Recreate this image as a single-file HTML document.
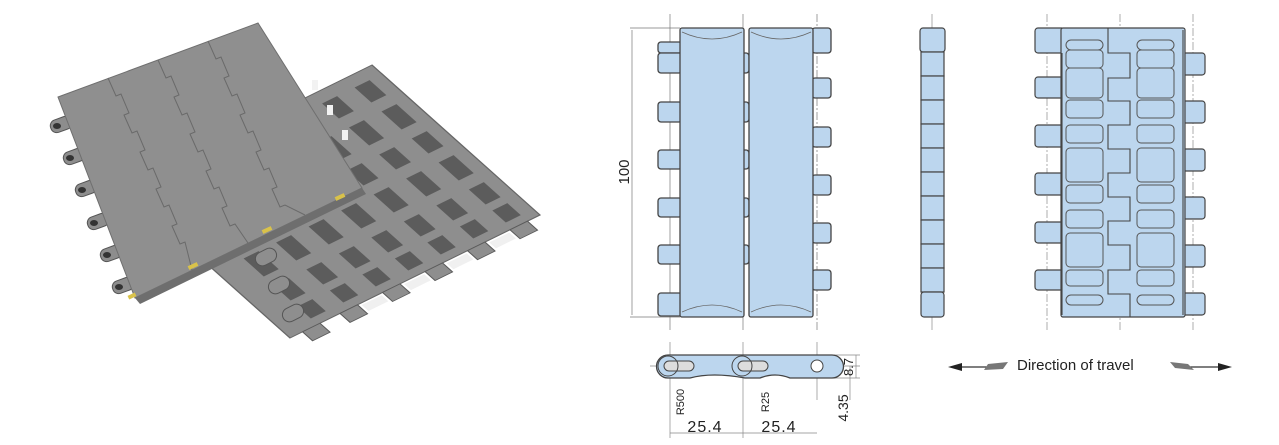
<!DOCTYPE html>
<html><head><meta charset="utf-8"><style>
html,body{margin:0;padding:0;background:#fff;}
svg{display:block}
text{font-family:"Liberation Sans",sans-serif;fill:#222}
</style></head><body>
<svg width="1279" height="445" viewBox="0 0 1279 445" xmlns="http://www.w3.org/2000/svg">

<!-- bottom plate (underside) -->
<g transform="matrix(1.68,1.5,-2.5,1.23,372,65)">
  <polygon points="0,0 100,0 100,100 0,100" fill="#8e8e8e" stroke="#666" stroke-width="0.5"/>
  <g fill="#8e8e8e" stroke="#5a5a5a" stroke-width="0.4">
    <rect x="100" y="5" width="6" height="7"/><rect x="100" y="22" width="6" height="7"/>
    <rect x="100" y="39" width="6" height="7"/><rect x="100" y="56" width="6" height="7"/>
    <rect x="100" y="73" width="6" height="7"/><rect x="100" y="88" width="6" height="7"/>
  </g>
  <g fill="#5c5c5c">
    <rect x="6" y="5" width="10" height="6"/><rect x="22" y="5" width="12" height="6"/><rect x="40" y="5" width="10" height="6"/><rect x="56" y="5" width="12" height="6"/><rect x="74" y="5" width="10" height="6"/><rect x="88" y="5" width="8" height="6"/>
    <rect x="6" y="18" width="10" height="6"/><rect x="22" y="18" width="12" height="6"/><rect x="40" y="18" width="10" height="6"/><rect x="56" y="18" width="12" height="6"/><rect x="74" y="18" width="10" height="6"/><rect x="88" y="18" width="8" height="6"/>
    <rect x="6" y="31" width="10" height="6"/><rect x="22" y="31" width="12" height="6"/><rect x="40" y="31" width="10" height="6"/><rect x="56" y="31" width="12" height="6"/><rect x="74" y="31" width="10" height="6"/><rect x="88" y="31" width="8" height="6"/>
    <rect x="6" y="44" width="10" height="6"/><rect x="22" y="44" width="12" height="6"/><rect x="40" y="44" width="10" height="6"/><rect x="56" y="44" width="12" height="6"/><rect x="74" y="44" width="10" height="6"/><rect x="88" y="44" width="8" height="6"/>
    <rect x="6" y="57" width="10" height="6"/><rect x="22" y="57" width="12" height="6"/><rect x="40" y="57" width="10" height="6"/><rect x="56" y="57" width="12" height="6"/><rect x="74" y="57" width="10" height="6"/><rect x="88" y="57" width="8" height="6"/>
    <rect x="6" y="70" width="10" height="6"/><rect x="22" y="70" width="12" height="6"/><rect x="40" y="70" width="10" height="6"/><rect x="56" y="70" width="12" height="6"/><rect x="74" y="70" width="10" height="6"/><rect x="88" y="70" width="8" height="6"/>
    <rect x="6" y="83" width="10" height="6"/><rect x="22" y="83" width="12" height="6"/><rect x="40" y="83" width="10" height="6"/><rect x="56" y="83" width="12" height="6"/><rect x="74" y="83" width="10" height="6"/><rect x="88" y="83" width="8" height="6"/>
  </g>
  <g fill="#f0f0f0"><rect x="101" y="13" width="4" height="8"/><rect x="101" y="30" width="4" height="8"/><rect x="101" y="47" width="4" height="8"/><rect x="101" y="64" width="4" height="8"/></g>
</g>
<g fill="#8e8e8e" stroke="#555" stroke-width="1">
  <rect x="255" y="250" width="22" height="14" rx="7" transform="rotate(-27 266 257)"/>
  <rect x="268" y="278" width="22" height="14" rx="7" transform="rotate(-27 279 285)"/>
  <rect x="282" y="306" width="22" height="14" rx="7" transform="rotate(-27 293 313)"/>
</g>

<!-- top plate tabs -->
<g fill="#8d8d8d" stroke="#555" stroke-width="1">
  <rect x="50" y="118" width="22" height="13" rx="6" transform="rotate(-20 61 124)"/>
  <rect x="63" y="150" width="22" height="13" rx="6" transform="rotate(-20 74 156)"/>
  <rect x="75" y="182" width="22" height="13" rx="6" transform="rotate(-20 86 188)"/>
  <rect x="87" y="215" width="22" height="13" rx="6" transform="rotate(-20 98 221)"/>
  <rect x="100" y="247" width="22" height="13" rx="6" transform="rotate(-20 111 253)"/>
  <rect x="112" y="279" width="22" height="13" rx="6" transform="rotate(-20 123 285)"/>
</g>
<g fill="#333">
  <ellipse cx="57" cy="126" rx="4" ry="3"/><ellipse cx="70" cy="158" rx="4" ry="3"/><ellipse cx="82" cy="190" rx="4" ry="3"/>
  <ellipse cx="94" cy="223" rx="4" ry="3"/><ellipse cx="107" cy="255" rx="4" ry="3"/><ellipse cx="119" cy="287" rx="4" ry="3"/>
</g>
<!-- top plate body -->
<polygon points="362,188 366,194 140,304 135,298" fill="#6e6e6e"/>
<polygon points="58,97 258,23 362,188 135,298" fill="#8f8f8f" stroke="#6f6f6f" stroke-width="1"/>
<g fill="none" stroke="#6a6a6a" stroke-width="1">
  <polyline points="108,78 116,96 121,94 129,113 124,115 132,133 137,131 145,150 140,152 148,170 153,168 161,187 156,189 164,207 169,205 177,224 172,226 180,244 185,242 192,270"/>
  <polyline points="158,60 166,78 171,76 179,95 174,97 182,115 187,113 195,132 190,134 198,152 203,150 211,169 206,171 214,189 219,187 227,206 222,208 230,226 235,224 248,243"/>
  <polyline points="208,41 216,59 221,57 229,76 224,78 232,96 237,94 245,113 240,115 248,133 253,131 261,150 256,152 264,170 269,168 277,187 272,189 280,207 285,205 305,215"/>
</g>
<g fill="#d9c24a"><rect x="188" y="264" width="10" height="4" transform="rotate(-25 193 266)"/><rect x="262" y="228" width="10" height="4" transform="rotate(-25 267 230)"/><rect x="335" y="195" width="10" height="4" transform="rotate(-25 340 197)"/><rect x="128" y="294" width="8" height="4" transform="rotate(-25 132 296)"/></g>
<g fill="#f2f2f2"><rect x="312" y="80" width="6" height="10"/><rect x="327" y="105" width="6" height="10"/><rect x="342" y="130" width="6" height="10"/></g>

<!-- ===== Drawing 1: top view ===== -->
<g stroke="#888" stroke-width="0.8">
  <line x1="670" y1="14" x2="670" y2="330"/><line x1="743" y1="14" x2="743" y2="330"/><line x1="817" y1="14" x2="817" y2="330" stroke-dasharray="8 2 2 2"/>
</g>
<g fill="#bcd6ee" stroke="#444" stroke-width="1.3">
  <rect x="658" y="42" width="24" height="11" rx="3"/>
  <rect x="658" y="53" width="24" height="20" rx="3"/><rect x="658" y="102" width="24" height="20" rx="3"/>
  <rect x="658" y="150" width="24" height="19" rx="3"/><rect x="658" y="198" width="24" height="19" rx="3"/>
  <rect x="658" y="245" width="24" height="19" rx="3"/><rect x="658" y="293" width="24" height="23" rx="3"/>
  <rect x="812" y="28" width="19" height="25" rx="3"/>
  <rect x="812" y="78" width="19" height="20" rx="3"/><rect x="812" y="127" width="19" height="20" rx="3"/>
  <rect x="812" y="175" width="19" height="20" rx="3"/><rect x="812" y="223" width="19" height="20" rx="3"/>
  <rect x="812" y="270" width="19" height="20" rx="3"/>
  <rect x="735" y="53" width="14" height="20" rx="3"/><rect x="735" y="102" width="14" height="20" rx="3"/>
  <rect x="735" y="150" width="14" height="19" rx="3"/><rect x="735" y="198" width="14" height="19" rx="3"/>
  <rect x="735" y="245" width="14" height="19" rx="3"/>
</g>
<g fill="#bcd6ee" stroke="#444" stroke-width="1.3">
  <rect x="680" y="28" width="64" height="289" rx="2"/>
  <rect x="749" y="28" width="64" height="289" rx="2"/>
</g>
<g fill="none" stroke="#666" stroke-width="0.8">
  <path d="M682 32 Q712 46 742 32"/><path d="M751 32 Q781 46 811 32"/>
  <path d="M682 312 Q712 298 742 312"/><path d="M751 312 Q781 298 811 312"/>
</g>
<g stroke="#777" stroke-width="0.7">
  <line x1="630" y1="28" x2="680" y2="28"/><line x1="630" y1="317" x2="680" y2="317"/>
  <line x1="632" y1="30" x2="632" y2="315"/>
</g>
<text x="629" y="172" font-size="15" transform="rotate(-90 629 172)" text-anchor="middle">100</text>

<!-- ===== side view ===== -->
<line x1="932" y1="14" x2="932" y2="330" stroke="#999" stroke-width="0.8"/>
<g fill="#bcd6ee" stroke="#444" stroke-width="1.2">
  <rect x="920" y="28" width="25" height="24" rx="3"/><rect x="921" y="52" width="23" height="24"/>
  <rect x="921" y="76" width="23" height="24"/><rect x="921" y="100" width="23" height="24"/>
  <rect x="921" y="124" width="23" height="24"/><rect x="921" y="148" width="23" height="24"/>
  <rect x="921" y="172" width="23" height="24"/><rect x="921" y="196" width="23" height="24"/>
  <rect x="921" y="220" width="23" height="24"/><rect x="921" y="244" width="23" height="24"/>
  <rect x="921" y="268" width="23" height="24"/><rect x="921" y="292" width="23" height="25" rx="3"/>
</g>

<!-- ===== underside view ===== -->
<g stroke="#999" stroke-width="0.8" stroke-dasharray="8 2 2 2">
  <line x1="1047" y1="14" x2="1047" y2="330"/><line x1="1120" y1="14" x2="1120" y2="330"/><line x1="1193" y1="14" x2="1193" y2="330"/>
</g>
<g fill="#bcd6ee" stroke="#444" stroke-width="1.2">
  <rect x="1035" y="28" width="30" height="25" rx="3"/>
  <rect x="1035" y="77" width="30" height="21" rx="3"/><rect x="1035" y="125" width="30" height="22" rx="3"/>
  <rect x="1035" y="173" width="30" height="22" rx="3"/><rect x="1035" y="222" width="30" height="21" rx="3"/>
  <rect x="1035" y="270" width="30" height="20" rx="3"/>
  <rect x="1180" y="53" width="25" height="22" rx="3"/><rect x="1180" y="101" width="25" height="22" rx="3"/>
  <rect x="1180" y="149" width="25" height="22" rx="3"/><rect x="1180" y="197" width="25" height="22" rx="3"/>
  <rect x="1180" y="245" width="25" height="22" rx="3"/><rect x="1180" y="293" width="25" height="22" rx="3"/>
  <rect x="1061" y="28" width="124" height="289" rx="2"/>
</g>
<g fill="none" stroke="#444" stroke-width="1.1">
  <path d="M1108 28 V53 H1130 V78 H1108 V101 H1130 V125 H1108 V149 H1130 V173 H1108 V197 H1130 V221 H1108 V245 H1130 V270 H1108 V294 H1130 V317"/>
  <line x1="1062" y1="53" x2="1062" y2="315"/><line x1="1183" y1="30" x2="1183" y2="315"/>
</g>
<g fill="#bcd6ee" stroke="#555" stroke-width="1">
  <rect x="1066" y="40" width="37" height="10" rx="5"/><rect x="1137" y="40" width="37" height="10" rx="5"/>
  <rect x="1066" y="295" width="37" height="10" rx="5"/><rect x="1137" y="295" width="37" height="10" rx="5"/>
  <rect x="1066" y="50" width="37" height="18" rx="4"/><rect x="1137" y="50" width="37" height="18" rx="4"/>
  <rect x="1066" y="68" width="37" height="30" rx="4"/><rect x="1137" y="68" width="37" height="30" rx="4"/>
  <rect x="1066" y="100" width="37" height="18" rx="4"/><rect x="1137" y="100" width="37" height="18" rx="4"/>
  <rect x="1066" y="125" width="37" height="18" rx="4"/><rect x="1137" y="125" width="37" height="18" rx="4"/>
  <rect x="1066" y="148" width="37" height="34" rx="4"/><rect x="1137" y="148" width="37" height="34" rx="4"/>
  <rect x="1066" y="185" width="37" height="18" rx="4"/><rect x="1137" y="185" width="37" height="18" rx="4"/>
  <rect x="1066" y="210" width="37" height="18" rx="4"/><rect x="1137" y="210" width="37" height="18" rx="4"/>
  <rect x="1066" y="233" width="37" height="34" rx="4"/><rect x="1137" y="233" width="37" height="34" rx="4"/>
  <rect x="1066" y="270" width="37" height="16" rx="4"/><rect x="1137" y="270" width="37" height="16" rx="4"/>
</g>

<!-- ===== section view ===== -->
<g stroke="#888" stroke-width="0.7">
  <line x1="670" y1="342" x2="670" y2="438"/><line x1="743" y1="342" x2="743" y2="438"/><line x1="817" y1="342" x2="817" y2="400"/>
  <line x1="650" y1="366" x2="860" y2="366"/>
  <line x1="670" y1="433" x2="817" y2="433"/>
  <line x1="820" y1="355" x2="860" y2="355"/><line x1="820" y1="378" x2="860" y2="378"/>
  <line x1="856" y1="355" x2="856" y2="378"/><line x1="850" y1="366" x2="850" y2="400"/>
</g>
<g fill="#bcd6ee" stroke="#444" stroke-width="1.3">
  <path d="M668 355 H832 A11 11 0 0 1 832 378 H790 Q775 372 760 378 H745 Q712 372 690 378 H668 A11.5 11.5 0 0 1 668 355 Z"/>
</g>
<g fill="#ddd" stroke="#444" stroke-width="1">
  <rect x="664" y="361" width="30" height="10" rx="5"/><rect x="738" y="361" width="30" height="10" rx="5"/>
  <circle cx="817" cy="366" r="6" fill="#fff"/>
  <circle cx="668" cy="366" r="10" fill="none"/><circle cx="742" cy="366" r="10" fill="none"/>
</g>
<text x="705" y="432" font-size="16" text-anchor="middle" letter-spacing="1">25.4</text>
<text x="779" y="432" font-size="16" text-anchor="middle" letter-spacing="1">25.4</text>
<text x="684" y="402" font-size="11" transform="rotate(-90 684 402)" text-anchor="middle">R500</text>
<text x="769" y="402" font-size="11" transform="rotate(-90 769 402)" text-anchor="middle">R25</text>
<text x="853" y="367" font-size="13" transform="rotate(-90 853 367)" text-anchor="middle">8.7</text>
<text x="848" y="408" font-size="14" transform="rotate(-90 848 408)" text-anchor="middle">4.35</text>

<!-- direction of travel -->
<g>
  <line x1="955" y1="367" x2="990" y2="367" stroke="#333" stroke-width="1.2"/>
  <polygon points="948,367 962,363 962,371" fill="#222"/>
  <polygon points="988,364 1008,362 1003,369 984,370" fill="#777"/>
  <line x1="1190" y1="367" x2="1225" y2="367" stroke="#333" stroke-width="1.2"/>
  <polygon points="1232,367 1218,363 1218,371" fill="#222"/>
  <polygon points="1170,362 1188,364 1194,370 1175,368" fill="#777"/>
  <text x="1017" y="370" font-size="15">Direction of travel</text>
</g>
</svg>
</body></html>
